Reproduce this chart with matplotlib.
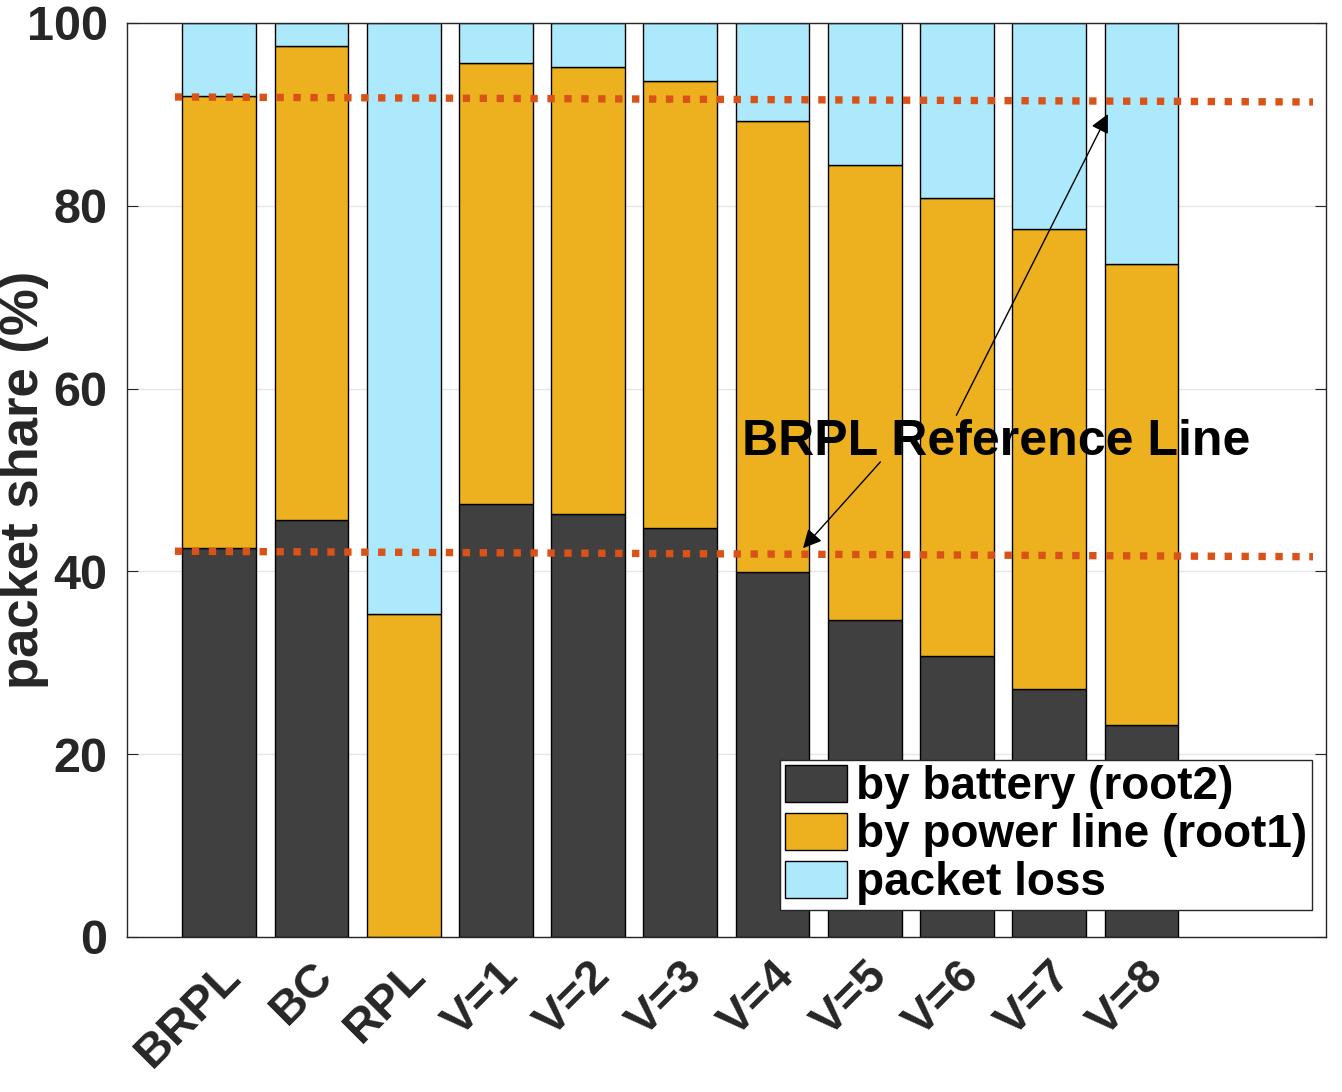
import numpy as np
import matplotlib.pyplot as plt
import matplotlib.transforms as mtransforms

plt.rcParams['font.family'] = ['Liberation Sans', 'DejaVu Sans']
plt.rcParams['font.weight'] = 'bold'

categories = ['BRPL', 'BC', 'RPL', 'V=1', 'V=2', 'V=3', 'V=4', 'V=5', 'V=6', 'V=7', 'V=8']
battery = [42.6, 45.6, 0.0, 47.4, 46.3, 44.7, 39.9, 34.7, 30.7, 27.1, 23.2]
power_top = [92.0, 97.5, 35.3, 95.6, 95.2, 93.7, 89.3, 84.5, 80.9, 77.5, 73.6]
power = [p - b for p, b in zip(power_top, battery)]
loss = [100 - p for p in power_top]

# reference lines (start, end) as drawn
ref_x = [0.52, 12.86]
ref_upper = [91.9, 91.35]
ref_lower = [42.2, 41.6]

c_batt = '#404040'
c_power = '#EDB120'
c_loss = '#ADE9FC'
c_ref = '#D95319'

fig = plt.figure(figsize=(13.42, 10.92), dpi=100)
ax = fig.add_axes([0.0946, 0.142, 0.8934, 0.837])

x = np.arange(1, len(categories) + 1)
ax.bar(x, battery, width=0.8, color=c_batt, edgecolor='black', lw=1, label='by battery (root2)', zorder=2)
ax.bar(x, power, width=0.8, bottom=battery, color=c_power, edgecolor='black', lw=1,
       label='by power line (root1)', zorder=2)
ax.bar(x, loss, width=0.8, bottom=power_top, color=c_loss, edgecolor='black', lw=1,
       label='packet loss', zorder=2)

ax.plot(ref_x, ref_upper, color=c_ref, lw=5.3, dashes=(1, 1.3), zorder=3)
ax.plot(ref_x, ref_lower, color=c_ref, lw=5.3, dashes=(1, 1.3), zorder=3)

ax.text(6.67, 54.2, 'BRPL Reference Line', fontsize=36, fontweight='bold',
        ha='left', va='center', zorder=5)
arrow = dict(arrowstyle='-|>', color='black', lw=1, mutation_scale=28)
ax.annotate('', xy=(10.65, 90.3), xytext=(8.98, 56.8), arrowprops=arrow, zorder=5)
ax.annotate('', xy=(7.31, 42.3), xytext=(8.19, 52.2), arrowprops=arrow, zorder=5)

ax.set_xlim(0, 13)
ax.set_ylim(0, 100)
ax.set_xticks(x)
ax.set_xticklabels(categories, rotation=45, ha='right', rotation_mode='anchor',
                   fontsize=34, fontweight='bold', color='#262626')
shift = mtransforms.ScaledTranslation(0.2, 0, fig.dpi_scale_trans)
for lab in ax.get_xticklabels():
    lab.set_transform(lab.get_transform() + shift)
ax.set_yticks([0, 20, 40, 60, 80, 100])
ax.tick_params(axis='y', labelsize=35, colors='#262626', direction='in', length=8, right=True, pad=14)
ax.tick_params(axis='x', direction='in', length=8, pad=12, top=False)
for lab in ax.get_yticklabels():
    lab.set_fontweight('bold')
ax.set_ylabel('packet share (%)', fontsize=38, fontweight='bold', color='#262626')
ax.yaxis.set_label_coords(-0.065, 0.5)
ax.yaxis.grid(True, color='#E6E6E6', lw=1, zorder=0)
ax.set_axisbelow(True)
for s in ax.spines.values():
    s.set_color('#262626')
    s.set_linewidth(1)

leg = ax.legend(loc='lower left', bbox_to_anchor=(0.545, 0.0295), borderaxespad=0,
                fontsize=33, frameon=True, fancybox=False, framealpha=1,
                edgecolor='#262626', handlelength=1.35, handleheight=0.87,
                labelspacing=0.08, handletextpad=0.2, borderpad=0.1)
leg.get_frame().set_linewidth(1)
for t in leg.get_texts():
    t.set_fontweight('bold')

fig.savefig('out.png', dpi=100)
